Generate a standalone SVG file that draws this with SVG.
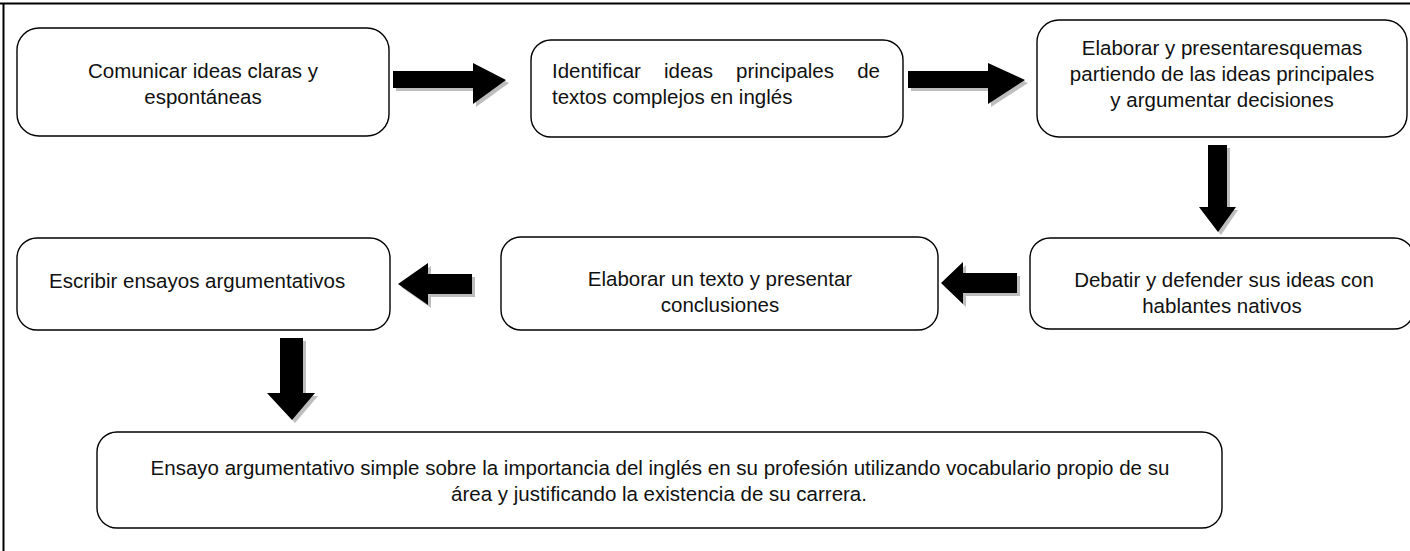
<svg xmlns="http://www.w3.org/2000/svg" width="1410" height="551" viewBox="0 0 1410 551">
<style>
.box{fill:#fff;stroke:#000;stroke-width:1.4}
.t{font-family:"Liberation Sans",Arial,sans-serif;font-size:20.5px;fill:#111}
.c{text-anchor:middle}
.arr{fill:#000}
.sh{fill:#bdbdbd}
.frame{stroke:#000;stroke-width:2;fill:none}
</style>
<rect width="1410" height="551" fill="#fff"/>
<path class="frame" d="M0,3.5 H1410 M3.5,3.5 V551"/>
<g id="connectors">
<g id="a1"><path class="sh" d="M396,74 L476,74 L476,66 L509,83 L476,107 L476,91 L396,91 Z"/><path class="arr" d="M393,71 L473,71 L473,63 L506,80 L473,104 L473,88 L393,88 Z"/></g>
<g id="a2"><path class="sh" d="M911,74 L991,74 L991,66 L1028,83 L991,107 L991,91 L911,91 Z"/><path class="arr" d="M908,71 L988,71 L988,63 L1025,80 L988,104 L988,88 L908,88 Z"/></g>
<g id="a3"><path class="sh" d="M1211,148 L1230,148 L1230,210 L1238,210 L1221,235 L1202,210 L1211,210 Z"/><path class="arr" d="M1208,145 L1227,145 L1227,207 L1236,207 L1218,232 L1199,207 L1208,207 Z"/></g>
<g id="a4"><path class="sh" d="M1020,276 L966,276 L966,265 L944,286 L966,307 L966,296 L1020,296 Z"/><path class="arr" d="M1017,273 L963,273 L963,262 L941,283 L963,304 L963,293 L1017,293 Z"/></g>
<g id="a5"><path class="sh" d="M475,277 L431,277 L431,266 L401,287 L431,308 L431,297 L475,297 Z"/><path class="arr" d="M472,274 L428,274 L428,263 L398,284 L428,305 L428,294 L472,294 Z"/></g>
<g id="a6"><path class="sh" d="M283,341 L306,341 L306,396 L318,396 L295,423 L270,396 L283,396 Z"/><path class="arr" d="M280,338 L303,338 L303,393 L315,393 L292,420 L267,393 L280,393 Z"/></g>
</g>
<g id="n1"><rect class="box" x="17" y="28" width="372" height="108" rx="22"/>
<text class="t c" x="203" y="78">Comunicar ideas claras y</text>
<text class="t c" x="203" y="104">espontáneas</text></g>
<g id="n2"><rect class="box" x="531" y="40" width="372" height="97" rx="20"/>
<text class="t" x="552" y="78">Identificar</text>
<text class="t" x="664" y="78">ideas</text>
<text class="t" x="736" y="78">principales</text>
<text class="t" x="880" y="78" text-anchor="end">de</text>
<text class="t" x="552" y="104">textos complejos en inglés</text></g>
<g id="n3"><rect class="box" x="1037" y="20" width="370" height="117" rx="22"/>
<text class="t c" x="1222" y="55">Elaborar y presentaresquemas</text>
<text class="t c" x="1222" y="81">partiendo de las ideas principales</text>
<text class="t c" x="1222" y="107">y argumentar decisiones</text></g>
<g id="n4"><rect class="box" x="1030" y="238" width="384" height="91" rx="20"/>
<text class="t c" x="1224" y="287">Debatir y defender sus ideas con</text>
<text class="t c" x="1222" y="313">hablantes nativos</text></g>
<g id="n5"><rect class="box" x="501" y="237" width="437" height="93" rx="20"/>
<text class="t c" x="720" y="286">Elaborar un texto y presentar</text>
<text class="t c" x="720" y="312">conclusiones</text></g>
<g id="n6"><rect class="box" x="17" y="238" width="373" height="92" rx="20"/>
<text class="t" x="49" y="288">Escribir ensayos argumentativos</text></g>
<g id="n7"><rect class="box" x="97" y="432" width="1125" height="96" rx="20"/>
<text class="t c" x="660" y="475">Ensayo argumentativo simple sobre la importancia del inglés en su profesión utilizando vocabulario propio de su</text>
<text class="t c" x="659" y="501">área y justificando la existencia de su carrera.</text></g>
</svg>
